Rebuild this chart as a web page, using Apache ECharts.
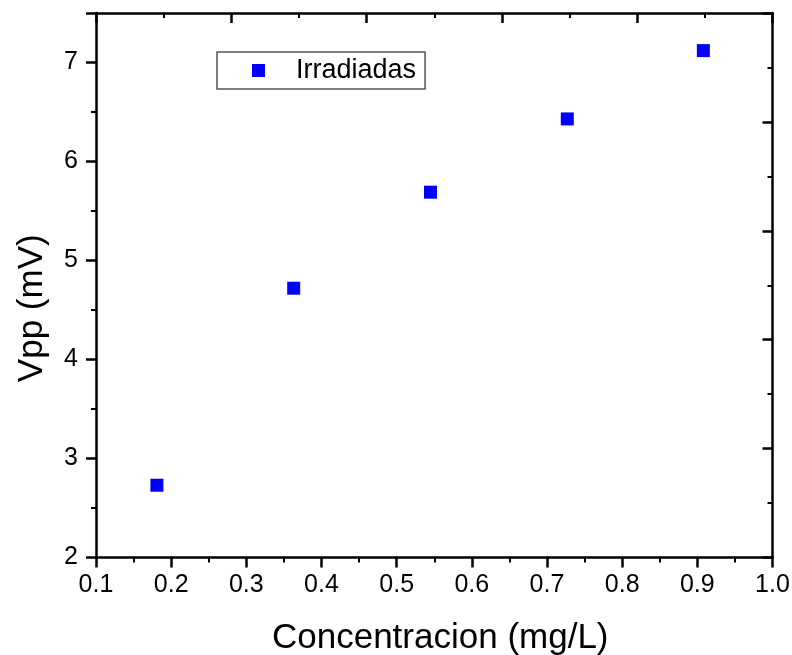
<!DOCTYPE html>
<html>
<head>
<meta charset="utf-8">
<script src="https://cdn.jsdelivr.net/npm/echarts@6/dist/echarts.min.js"></script>
<style>
html,body{margin:0;padding:0;background:#fff;}
#chart{width:792px;height:655px;}
</style>
</head>
<body>
<div id="chart"></div>
<script>
const seriesName = 'Irradiadas';
const concentracion = [0.181, 0.363, 0.545, 0.727, 0.908];
const vpp = [2.73, 4.72, 5.69, 6.43, 7.12];
const xTitle = 'Concentracion (mg/L)';
const yTitle = 'Vpp (mV)';

const FONT = '"Liberation Sans", Arial, sans-serif';
const axisLine = {show: true, lineStyle: {color: '#000', width: 2.5}};

const chart = echarts.init(document.getElementById('chart'), null, {renderer: 'canvas'});
chart.setOption({
  animation: false,
  backgroundColor: '#fff',
  grid: {left: 96, right: 19.5, top: 13, bottom: 97.5, containLabel: false, outerBoundsMode: 'none'},
  legend: {
    data: [{name: seriesName, icon: 'rect'}],
    left: 217, top: 52,
    itemWidth: 13, itemHeight: 13,
    padding: [5, 9, 5, 35],
    borderColor: '#555', borderWidth: 1.5,
    textStyle: {fontFamily: FONT, fontSize: 27, color: '#000', padding: [0, 0, 0, 26]}
  },
  xAxis: [{
    type: 'value', position: 'bottom', min: 0.1, max: 1.0, interval: 0.1,
    name: xTitle, nameLocation: 'middle', nameGap: 63,
    nameTextStyle: {fontFamily: FONT, fontSize: 35, color: '#000', padding: [0, 0, 0, 12]},
    axisLine: axisLine,
    axisTick: {show: true, inside: false, length: 10, lineStyle: {color: '#000', width: 2.5}},
    minorTick: {show: true, splitNumber: 2, length: 5, lineStyle: {color: '#000', width: 2}},
    axisLabel: {fontFamily: FONT, fontSize: 25, color: '#000', margin: 15,
      formatter: v => v.toFixed(1)},
    splitLine: {show: false}
  }, {
    type: 'value', position: 'top', min: 0, max: 1, interval: 0.2,
    axisLine: axisLine,
    axisTick: {show: true, inside: true, length: 10, lineStyle: {color: '#000', width: 2.5}},
    minorTick: {show: true, splitNumber: 2, length: 5, lineStyle: {color: '#000', width: 2}},
    axisLabel: {show: false},
    splitLine: {show: false}
  }],
  yAxis: [{
    type: 'value', position: 'left', min: 2, max: 7.5, interval: 1,
    name: yTitle, nameLocation: 'middle', nameGap: 46,
    nameTextStyle: {fontFamily: FONT, fontSize: 35, color: '#000', padding: [0, 46, 0, 0]},
    axisLine: axisLine,
    axisTick: {show: true, inside: false, length: 10, lineStyle: {color: '#000', width: 2.5}},
    minorTick: {show: true, splitNumber: 2, length: 5, lineStyle: {color: '#000', width: 2}},
    axisLabel: {fontFamily: FONT, fontSize: 25, color: '#000', margin: 18, showMaxLabel: false},
    splitLine: {show: false}
  }, {
    type: 'value', position: 'right', min: 0, max: 1, interval: 0.2,
    axisLine: axisLine,
    axisTick: {show: true, inside: true, length: 10, lineStyle: {color: '#000', width: 2.5}},
    minorTick: {show: true, splitNumber: 2, length: 5, lineStyle: {color: '#000', width: 2}},
    axisLabel: {show: false},
    splitLine: {show: false}
  }],
  series: [{
    name: seriesName,
    type: 'scatter',
    xAxisIndex: 0, yAxisIndex: 0,
    symbol: 'rect', symbolSize: 13,
    itemStyle: {color: '#0000ff', borderWidth: 0, opacity: 1},
    data: concentracion.map((x, i) => [x, vpp[i]])
  }]
});
</script>
</body>
</html>
